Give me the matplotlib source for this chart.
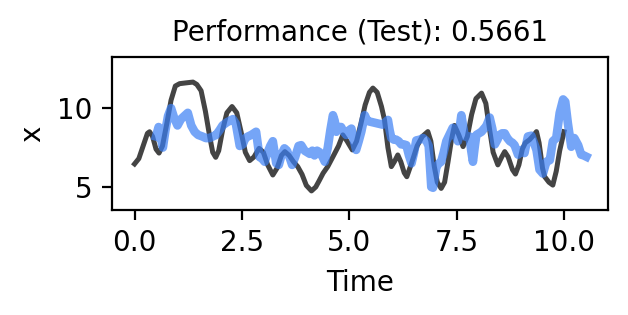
import matplotlib
matplotlib.use("Agg")
import matplotlib.pyplot as plt

# Ground-truth series (black)
true_t = [0.0, 0.1, 0.2, 0.3, 0.35, 0.42, 0.5, 0.57, 0.65, 0.75, 0.85, 0.95, 1.05, 1.2, 1.36, 1.45,
          1.55, 1.65, 1.75, 1.82, 1.89, 1.96, 2.05, 2.15, 2.27, 2.38, 2.48, 2.58, 2.68, 2.78, 2.9,
          3.0, 3.1, 3.22, 3.32, 3.42, 3.5, 3.6, 3.7, 3.8, 3.9, 4.0, 4.12, 4.22, 4.3, 4.39, 4.5,
          4.62, 4.75, 4.85, 4.95, 5.07, 5.17, 5.27, 5.37, 5.47, 5.55, 5.65, 5.75, 5.82, 5.9, 5.98,
          6.05, 6.13, 6.2, 6.28, 6.34, 6.45, 6.58, 6.7, 6.83, 6.9, 6.98, 7.05, 7.14, 7.22, 7.3,
          7.38, 7.45, 7.55, 7.65, 7.75, 7.85, 7.95, 8.08, 8.18, 8.27, 8.35, 8.46, 8.55, 8.62, 8.7,
          8.8, 8.87, 8.95, 9.03, 9.1, 9.2, 9.3, 9.36, 9.42, 9.5, 9.55, 9.65, 9.74, 9.82, 9.9, 10.0]
true_x = [6.46, 6.8, 7.6, 8.4, 8.5, 8.2, 7.4, 7.15, 7.6, 9.0, 10.5, 11.4, 11.55, 11.6, 11.65, 11.5,
          11.1, 9.8, 8.2, 7.2, 6.88, 7.3, 8.6, 9.7, 10.1, 9.7, 8.5, 7.2, 6.67, 6.9, 7.45,
          7.2, 6.4, 5.76, 6.2, 7.0, 7.24, 7.0, 6.6, 6.29, 5.8, 5.1, 4.75, 5.0, 5.4, 5.87, 6.3,
          6.92, 7.6, 8.3, 7.9, 7.35, 7.9, 9.0, 10.2, 11.0, 11.27, 11.0, 10.1, 9.26, 7.5, 6.29,
          6.6, 7.03, 6.6, 5.9, 5.65, 6.5, 7.6, 8.2, 8.51, 7.9, 6.3, 5.3, 4.91, 5.3, 6.6,
          8.0, 8.9, 8.3, 7.56, 8.2, 9.6, 10.6, 10.95, 10.3, 8.6, 7.2, 6.4, 6.9, 7.24, 6.9,
          6.1, 5.82, 6.4, 7.4, 7.8, 8.0, 8.3, 8.51, 7.8, 6.2, 5.65, 5.3, 5.12, 6.0, 7.3, 8.5]

# Predicted series (blue)
pred_t = [0.5, 0.56, 0.62, 0.66, 0.72, 0.78, 0.85, 0.92, 1.0, 1.08, 1.16, 1.24, 1.32, 1.4, 1.48,
          1.58, 1.66, 1.75, 1.82, 1.9, 1.98, 2.05, 2.15, 2.22, 2.29, 2.36, 2.45, 2.52, 2.58, 2.64,
          2.72, 2.83, 2.91, 2.97, 3.03, 3.1, 3.16, 3.22, 3.3, 3.36, 3.43, 3.49, 3.55, 3.62, 3.67,
          3.74, 3.82, 3.88, 3.96, 4.02, 4.08, 4.14, 4.19, 4.25, 4.31, 4.38, 4.43, 4.5, 4.56, 4.62,
          4.66, 4.7, 4.76, 4.81, 4.87, 4.93, 5.0, 5.05, 5.1, 5.16, 5.22, 5.28, 5.36, 5.42, 5.47,
          5.55, 5.62, 5.7, 5.78, 5.84, 5.9, 5.94, 5.98, 6.04, 6.09, 6.15, 6.21, 6.27, 6.33, 6.39,
          6.45, 6.51, 6.56, 6.64, 6.72, 6.8, 6.85, 6.91, 6.95, 7.03, 7.09, 7.14, 7.2, 7.26, 7.33,
          7.41, 7.47, 7.53, 7.61, 7.69, 7.75, 7.8, 7.84, 7.88, 7.92, 7.96, 8.02, 8.08, 8.14, 8.19,
          8.27, 8.33, 8.39, 8.45, 8.5, 8.56, 8.62, 8.68, 8.74, 8.8, 8.85, 8.93, 9.01, 9.08, 9.16,
          9.24, 9.3, 9.36, 9.43, 9.51, 9.59, 9.67, 9.74, 9.82, 9.9, 9.98, 10.03, 10.09, 10.17, 10.24,
          10.33, 10.4, 10.46, 10.52]
pred_x = [8.2, 8.8, 8.0, 7.5, 8.6, 9.5, 10.0, 9.4, 8.9, 9.3, 9.5, 9.7, 8.9, 8.5, 8.3,
          8.2, 8.1, 8.1, 8.2, 8.3, 8.6, 8.9, 9.1, 9.2, 9.3, 9.0, 7.6, 7.7, 8.1, 8.2,
          8.3, 8.5, 6.9, 6.8, 6.6, 7.2, 7.6, 7.9, 6.5, 6.4, 7.1, 7.45, 7.3, 6.8, 6.4,
          6.9, 7.6, 7.65, 7.3, 7.2, 7.1, 7.3, 7.0, 7.3, 7.2, 6.9, 6.6, 7.5, 8.6, 9.55,
          9.2, 8.5, 8.8, 8.8, 8.5, 8.3, 8.6, 8.7, 8.0, 7.35, 7.9, 8.5, 9.55, 9.2, 9.15,
          9.1, 9.05, 9.0, 8.95, 9.1, 9.25, 8.6, 8.1, 8.0, 8.0, 7.9, 7.7, 7.7, 7.65, 7.0,
          6.5, 7.2, 7.95, 8.0, 8.1, 7.9, 7.6, 5.0, 4.95, 6.3, 6.5, 6.6, 7.2, 7.9, 8.3,
          8.75, 8.3, 7.9, 9.55, 8.2, 8.2, 8.2, 7.3, 6.6, 7.5, 8.3, 8.4, 8.5, 8.7, 8.85,
          9.4, 8.7, 7.7, 8.0, 8.3, 8.4, 8.4, 8.1, 7.9, 7.8, 7.65, 7.05, 7.35, 7.15, 8.2,
          8.25, 7.8, 7.35, 6.1, 5.85, 6.6, 6.7, 7.9, 8.1, 9.7, 10.55, 10.4, 9.05, 7.55, 8.1,
          7.65, 7.05, 7.0, 6.92]

title = "Performance (Test): 0.5661"
xlabel = "Time"
ylabel = "x"

W, H, DPI = 628, 315, 200
fig = plt.figure(figsize=(W / DPI, H / DPI), dpi=DPI)
ax = fig.add_axes([112 / W, (H - 210) / H, 496 / W, 153 / H])

ax.plot(true_t, true_x, color="#444444", lw=1.8, solid_joinstyle="round")
ax.plot(pred_t, pred_x, color="#3b7ff5", alpha=0.7, lw=3.1, solid_joinstyle="round")

ax.set_xlim(-0.525, 11.025)
ax.set_ylim(3.54, 13.24)
ax.set_xticks([0.0, 2.5, 5.0, 7.5, 10.0])
ax.set_yticks([5, 10])
ax.set_title(title, fontsize=10)
ax.set_xlabel(xlabel, fontsize=10)
ax.set_ylabel(ylabel, fontsize=10)
ax.tick_params(labelsize=10)

fig.savefig("out.png", dpi=DPI)
